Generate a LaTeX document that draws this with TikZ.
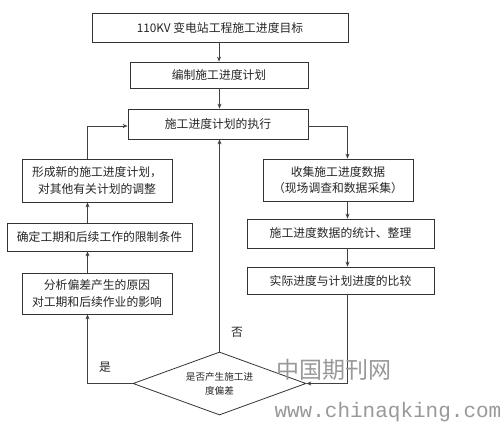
\documentclass[tikz,border=0pt]{standalone}
\usepackage{fontspec}
\setmainfont{Liberation Sans}
\newfontfamily\cjk{Noto Sans CJK SC}
\newfontfamily\wmmono{Liberation Mono}
\usetikzlibrary{shapes.geometric,arrows.meta,calc}
\begin{document}
\begin{tikzpicture}[x=1pt,y=-1pt,
  every node/.style={font=\cjk\fontsize{11.8}{16.5}\selectfont},
  box/.style={draw=black!80,line width=0.8pt,rectangle,inner sep=0pt,align=center,text=black!85},
  arr/.style={draw=black!75,line width=0.8pt,-{Stealth[length=5pt,width=4pt]}},
  ln/.style={draw=black!75,line width=0.8pt},
  wm/.style={text=black!40}]
\useasboundingbox (0,0) rectangle (503,427);
\fill[white] (0,0) rectangle (503,427);
% nodes
\node[box,minimum width=256,minimum height=29] (top) at (220,27.5) {110KV 变电站工程施工进度目标};
\node[box,minimum width=178,minimum height=26] (plan) at (219,75) {编制施工进度计划};
\node[box,minimum width=180,minimum height=30] (exec) at (218,124) {施工进度计划的执行};
\node[box,minimum width=150,minimum height=43] (form) at (97,180.5) {形成新的施工进度计划，\\对其他有关计划的调整};
\node[box,minimum width=185,minimum height=28] (limit) at (99.5,237) {确定工期和后续工作的限制条件};
\node[box,minimum width=150,minimum height=41] (anal) at (97,293.5) {分析偏差产生的原因\\对工期和后续作业的影响};
\node[box,minimum width=150,minimum height=42] (coll) at (338,180) {收集施工进度数据\\（现场调查和数据采集）};
\node[box,minimum width=187,minimum height=29] (stat) at (340.5,233.5) {施工进度数据的统计、整理};
\node[box,minimum width=187,minimum height=27] (comp) at (340.5,280.5) {实际进度与计划进度的比较};
\node[diamond,draw=black!80,line width=0.8pt,aspect=2.75,inner sep=0pt,minimum width=173,minimum height=63,align=center,text=black!85,font=\cjk\fontsize{9.6}{14}\selectfont] (dec) at (219.5,383.5) {是否产生施工进\\度偏差};
\coordinate (rx) at (347.5,0);
\coordinate (lx) at (87.5,0);
\coordinate (cx) at (219.5,0);
% connectors
\draw[arr] (top.south -| plan.north) -- (plan.north);
\draw[arr] (plan.south -| cx) -- (exec.north -| cx);
\draw[arr] (exec.east |- 0,126) -| (coll.north -| rx);
\draw[arr] (coll.south -| rx) -- (stat.north -| rx);
\draw[arr] (stat.south -| rx) -- (comp.north -| rx);
\draw[arr] (comp.south -| rx) |- (dec.east);
\draw[arr] (dec.north) -- (exec.south -| dec.north);
\draw[arr] (dec.west) -| (anal.south -| lx);
\draw[arr] (anal.north -| lx) -- (limit.south -| lx);
\draw[arr] (limit.north -| lx) -- (form.south -| lx);
\draw[arr] (form.north -| lx) |- (exec.west |- 0,126);
% labels
\node[text=black!85] (no) at (237,332) {否};
\node[text=black!85] (yes) at (105,367) {是};
% watermark
\node[wm,font=\cjk\fontsize{23}{26}\selectfont,anchor=west] (wm1) at (273,370) {中国期刊网};
\node[wm,font=\wmmono\fontsize{21}{24}\selectfont,anchor=west] (wm2) at (271,412) {www.chinaqking.com};
\end{tikzpicture}
\end{document}
